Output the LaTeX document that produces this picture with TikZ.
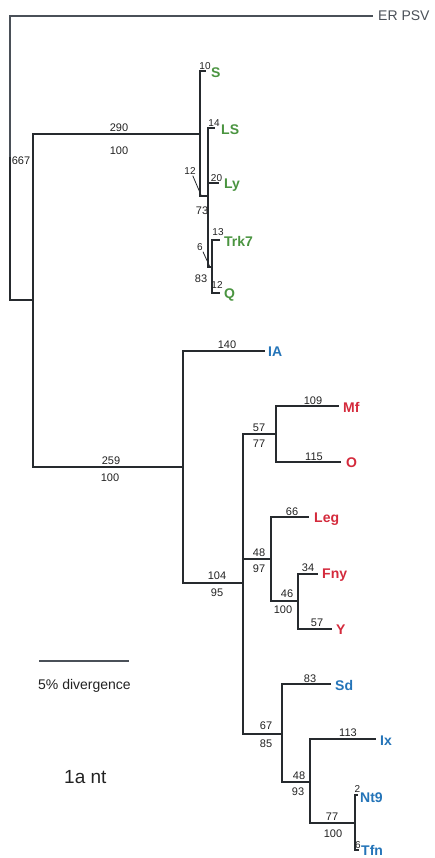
\documentclass[tikz,border=0pt]{standalone}
\usepackage{fontspec}
\setmainfont{Liberation Sans}
\definecolor{treec}{HTML}{262A2E}
\definecolor{outc}{HTML}{4A5058}
\definecolor{numc}{HTML}{222222}
\definecolor{grn}{HTML}{4A9440}
\definecolor{rd}{HTML}{D42A3C}
\definecolor{bl}{HTML}{2474B8}
\begin{document}
\begin{tikzpicture}[x=1pt,y=-1pt,
  branch/.style={draw=treec, line width=1.4pt, line cap=rect},
  outbranch/.style={draw=outc, line width=1.2pt},
  num/.style={font=\fontsize{11}{12}\selectfont, text=numc, inner sep=0pt},
  snum/.style={font=\fontsize{10}{11}\selectfont, text=numc, inner sep=0pt},
  taxon/.style={font=\fontsize{14}{16}\selectfont\bfseries, inner sep=0pt, anchor=west},
  gtax/.style={taxon, text=grn},
  rtax/.style={taxon, text=rd},
  btax/.style={taxon, text=bl},
  leader/.style={draw=treec, line width=0.8pt}]
\useasboundingbox (0,0) rectangle (434,858);
% internal nodes
\coordinate (root) at (10,158);
\coordinate (A) at (33,300);
\coordinate (B) at (200,134);
\coordinate (B2) at (208,196);
\coordinate (B3) at (212,267);
\coordinate (C) at (183,467);
\coordinate (D) at (243,583);
\coordinate (E) at (276,434);
\coordinate (F) at (271,559);
\coordinate (H) at (298,601);
\coordinate (G) at (282,734);
\coordinate (I) at (310,782);
\coordinate (J) at (355,823);
% tips
\coordinate (tER) at (373,16);
\coordinate (tS) at (205,71);
\coordinate (tLS) at (214,128);
\coordinate (tLy) at (218,183);
\coordinate (tTrk) at (219,240);
\coordinate (tQ) at (219,293);
\coordinate (tIA) at (264,351);
\coordinate (tMf) at (338,406);
\coordinate (tO) at (340,462);
\coordinate (tLeg) at (308,517);
\coordinate (tFny) at (317,574);
\coordinate (tY) at (331,629);
\coordinate (tSd) at (330,684);
\coordinate (tIx) at (375,739);
\coordinate (tNt) at (357,795);
\coordinate (tTfn) at (358,850);
% branches
\draw[outbranch] (root) |- (tER);
\draw[branch] (root) |- (A);
\draw[branch] (A) |- (B);
\draw[branch] (A) |- (C);
\draw[branch] (B) |- (tS);
\draw[branch] (B) |- (B2);
\draw[branch] (B2) |- (tLS);
\draw[branch] (B2) |- (tLy);
\draw[branch] (B2) |- (B3);
\draw[branch] (B3) |- (tTrk);
\draw[branch] (B3) |- (tQ);
\draw[branch] (C) |- (tIA);
\draw[branch] (C) |- (D);
\draw[branch] (D) |- (E);
\draw[branch] (D) |- (F);
\draw[branch] (D) |- (G);
\draw[branch] (E) |- (tMf);
\draw[branch] (E) |- (tO);
\draw[branch] (F) |- (tLeg);
\draw[branch] (F) |- (H);
\draw[branch] (H) |- (tFny);
\draw[branch] (H) |- (tY);
\draw[branch] (G) |- (tSd);
\draw[branch] (G) |- (I);
\draw[branch] (I) |- (tIx);
\draw[branch] (I) |- (J);
\draw[branch] (J) |- (tNt);
\draw[branch] (J) |- (tTfn);
% taxon labels
\node[taxon, font=\fontsize{14}{16}\selectfont, text=outc] (lER) at (378,16) {ER PSV};
\node[gtax] (lS) at (211,73) {S};
\node[gtax] (lLS) at (221,130) {LS};
\node[gtax] (lLy) at (224,185) {Ly};
\node[gtax] (lTrk) at (224,241) {Trk7};
\node[gtax] (lQ) at (224,295) {Q};
\node[btax] (lIA) at (268,352) {IA};
\node[rtax] (lMf) at (343,407.5) {Mf};
\node[rtax] (lO) at (346,463) {O};
\node[rtax] (lLeg) at (314,519) {Leg};
\node[rtax] (lFny) at (322,575.5) {Fny};
\node[rtax] (lY) at (336,630) {Y};
\node[btax] (lSd) at (335,685.5) {Sd};
\node[btax] (lIx) at (380,741) {Ix};
\node[btax] (lNt) at (360,798) {Nt9};
\node[btax] (lTfn) at (361,850.5) {Tfn};
% branch numbers
\node[num] (n667) at (21,161) {667};
\node[num] (n290) at (119,128) {290};
\node[num] (b290) at (119,151) {100};
\node[snum] (n10) at (205,66.5) {10};
\node[snum] (n14) at (214,123) {14};
\node[snum] (n20) at (216.5,178) {20};
\node[snum] (n13) at (218,232) {13};
\node[snum] (n12q) at (217,285) {12};
\node[snum] (n12) at (190,171) {12};
\coordinate (l12) at (201,195);
\draw[leader] (n12.south east) ++(-3,1) -- (l12);
\node[num] (b73) at (202,211) {73};
\node[snum] (n6) at (200,247) {6};
\coordinate (l6) at (209.5,266);
\draw[leader] (n6.south east) ++(0,1) -- (l6);
\node[num] (b83) at (201,279) {83};
\node[num] (n259) at (111,461) {259};
\node[num] (b259) at (110,478) {100};
\node[num] (n140) at (227,345) {140};
\node[num] (n104) at (217,576) {104};
\node[num] (b95) at (217,593) {95};
\node[num] (n57) at (259,428) {57};
\node[num] (b77) at (259,444) {77};
\node[num] (n109) at (313,401) {109};
\node[num] (n115) at (314,457) {115};
\node[num] (n48) at (259,553) {48};
\node[num] (b97) at (259,569) {97};
\node[num] (n66) at (292,512) {66};
\node[num] (n34) at (308,568) {34};
\node[num] (n46) at (287,594) {46};
\node[num] (b100a) at (283,610) {100};
\node[num] (n57y) at (317,623) {57};
\node[num] (n67) at (266,726) {67};
\node[num] (b85) at (266,744) {85};
\node[num] (n83) at (310,679) {83};
\node[num] (n48b) at (299,776) {48};
\node[num] (b93) at (298,792) {93};
\node[num] (n113) at (348,733) {113};
\node[num] (n77) at (332,817) {77};
\node[num] (b100b) at (333,834) {100};
\node[snum] (n2) at (357.5,789) {2};
\node[snum] (n6b) at (358,845) {6};
% scale bar and caption
\coordinate (sb1) at (39,661);
\coordinate (sb2) at (129,661);
\draw[outbranch, line width=1.3pt] (sb1) -- (sb2);
\node[inner sep=0pt, anchor=west, font=\fontsize{14}{16}\selectfont, text=numc] (scl) at (38,686) {5\% divergence};
\node[inner sep=0pt, anchor=west, font=\fontsize{19}{22}\selectfont, text=numc] (cap) at (64,777) {1a nt};
\end{tikzpicture}
\end{document}
